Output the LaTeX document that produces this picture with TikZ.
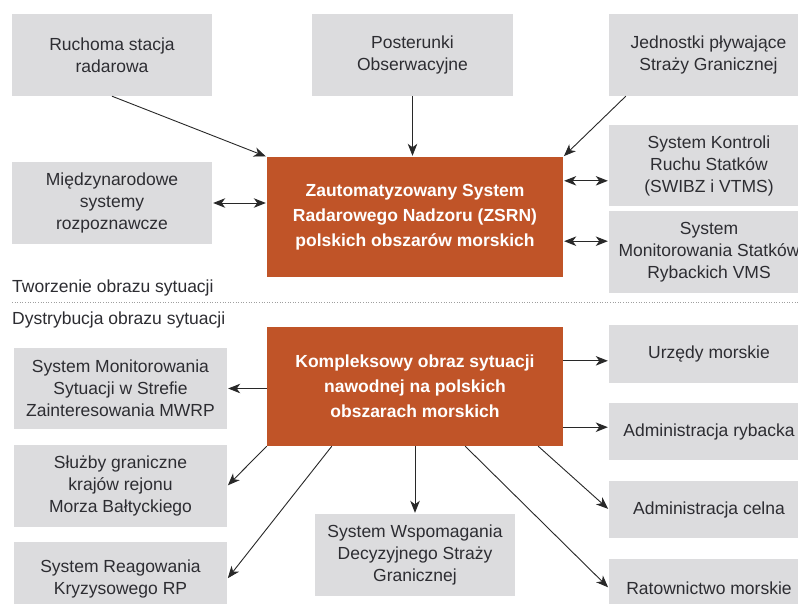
\documentclass[tikz,border=0pt]{standalone}
\usepackage{fontspec}
\setmainfont{Liberation Sans}
\usetikzlibrary{arrows.meta}
\definecolor{boxgray}{RGB}{220,220,222}
\definecolor{coreorange}{RGB}{192,84,40}
\definecolor{txt}{RGB}{45,45,50}
\definecolor{arrowc}{RGB}{40,40,40}
\begin{document}
\begin{tikzpicture}[x=1pt,y=-1pt,
  box/.style={fill=boxgray, text=txt, align=center, inner sep=0pt,
    font=\fontsize{17.5}{22}\selectfont},
  core/.style={fill=coreorange, text=white, align=center, inner sep=0pt,
    font=\bfseries\fontsize{17.5}{25}\selectfont},
  tip/.tip={Stealth[length=12pt,width=9.5pt,inset=3.5pt]},
  link/.style={draw=arrowc, line width=0.9pt, -tip, shorten >=1pt},
  both/.style={draw=arrowc, line width=0.9pt, tip-tip, shorten >=1pt, shorten <=1pt},
  caption/.style={text=txt, inner sep=0pt, anchor=base west,
    font=\fontsize{17.5}{22}\selectfont}]
\clip (0,0) rectangle (798,603);
\fill[white] (0,0) rectangle (798,603);

% sources feeding the surveillance system
\node[box, minimum width=200pt, minimum height=82pt] (ruch) at (112,55) {Ruchoma stacja\\radarowa};
\node[box, minimum width=201pt, minimum height=82pt] (post) at (412.5,55) {Posterunki\\Obserwacyjne};
\node[box, minimum width=199pt, minimum height=82pt] (jedn) at (708.5,55) {Jednostki pływające\\Straży Granicznej};
\node[box, minimum width=200pt, minimum height=82pt] (mied) at (112,203) {Międzynarodowe\\systemy\\rozpoznawcze};
\node[box, minimum width=200pt, minimum height=81pt] (kont) at (709,165.5) {System Kontroli\\Ruchu Statków\\(SWIBZ i VTMS)};
\node[box, minimum width=200pt, minimum height=82pt] (vms) at (709,252) {System\\Monitorowania Statków\\Rybackich VMS};

% central systems
\node[core, minimum width=296pt, minimum height=120pt] (zsrn) at (415,217)
  {Zautomatyzowany System\\Radarowego Nadzoru (ZSRN)\\polskich obszarów morskich};
\node[core, minimum width=296pt, minimum height=119pt] (komp) at (415,386.5)
  {Kompleksowy obraz sytuacji\\nawodnej na polskich\\obszarach morskich};

% section captions and separator
\node[caption] (cap1) at (12,292) {Tworzenie obrazu sytuacji};
\node[caption] (cap2) at (12,324) {Dystrybucja obrazu sytuacji};
\draw[gray!75, line width=0.7pt, dash pattern=on 1pt off 1.6pt] (12,302) -- (798,302);

% recipients of the situation picture
\node[box, minimum width=213pt, minimum height=81pt] (smon) at (120.5,388.5) {System Monitorowania\\Sytuacji w Strefie\\Zainteresowania MWRP};
\node[box, minimum width=213pt, minimum height=82pt] (sluz) at (120.5,486) {Służby graniczne\\krajów rejonu\\Morza Bałtyckiego};
\node[box, minimum width=213pt, minimum height=74pt] (reag) at (120.5,579) {System Reagowania\\Kryzysowego RP};
\node[box, minimum width=200pt, minimum height=82pt] (wsp) at (415,555) {System Wspomagania\\Decyzyjnego Straży\\Granicznej};
\node[box, minimum width=200pt, minimum height=58pt] (urz) at (709,354) {Urzędy morskie};
\node[box, minimum width=200pt, minimum height=57pt] (adrb) at (709,431.5) {Administracja rybacka};
\node[box, minimum width=200pt, minimum height=57pt] (adcl) at (709,509.5) {Administracja celna};
\node[box, minimum width=200pt, minimum height=58pt] (ratw) at (709,588) {Ratownictwo morskie};

% inputs
\draw[link] (ruch.south) -- (zsrn.north west);
\draw[link] (post.south) -- (post.south |- zsrn.north);
\draw[link] ([xshift=17pt]jedn.south west) -- (zsrn.north east);
\draw[both] (mied.east) -- (mied.east -| zsrn.west);
\coordinate (zk) at ([yshift=-24pt]zsrn.north east);
\draw[both] (zk) -- (zk -| kont.west);
\coordinate (zv) at ([yshift=36pt]zsrn.south east);
\draw[both] (zv) -- (zv -| vms.west);

% outputs
\draw[link] (komp.west |- smon.east) -- (smon.east);
\draw[link] (komp.south west) -- (sluz.east);
\draw[link] ([xshift=65pt]komp.south west) -- (reag.east);
\draw[link] (komp.south -| wsp.north) -- (wsp.north);
\coordinate (ku) at ([yshift=-34pt]komp.north east);
\draw[link] (ku) -- (ku -| urz.west);
\coordinate (kr) at ([yshift=19pt]komp.south east);
\draw[link] (kr) -- (kr -| adrb.west);
\draw[link] ([xshift=-25pt]komp.south east) -- (adcl.west);
\draw[link] ([xshift=-98pt]komp.south east) -- (ratw.west);
\end{tikzpicture}
\end{document}
